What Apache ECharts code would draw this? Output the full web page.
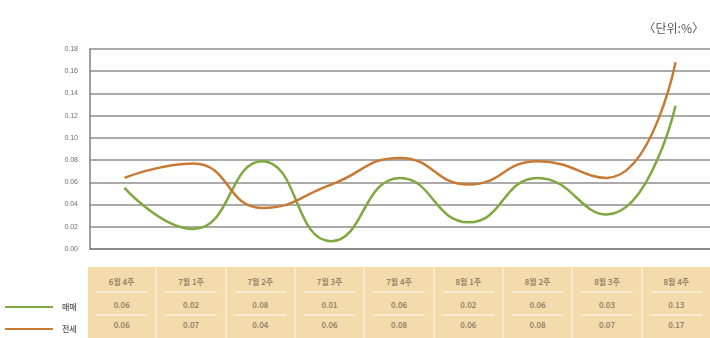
<!DOCTYPE html>
<html>
<head>
<meta charset="utf-8">
<script src="https://cdn.jsdelivr.net/npm/echarts@6/dist/echarts.min.js"></script>
<style>
  html, body { margin:0; padding:0; background:#fff; }
  #wrap { position:relative; width:710px; height:338px; overflow:hidden; font-family:"Noto Sans CJK KR","Noto Sans",sans-serif; }
  #chart { position:absolute; left:0; top:0; width:710px; height:338px; }
  #unit { position:absolute; right:6px; top:19px; font-size:12px; color:#555; }
  #table { position:absolute; left:88px; top:267px; width:622px; height:71px; background:#f3dbab; display:flex; }
  .col { flex:1; position:relative; border-left:2px solid #f8e9cc; }
  .col:first-child { border-left:none; }
  .cell { position:absolute; left:4px; right:4px; text-align:center; font-size:8px; color:#857660; font-weight:500; }
  .h { top:8px; height:14px; line-height:14px; }
  .r1 { top:31px; height:14px; line-height:14px; }
  .r2 { top:51px; height:14px; line-height:14px; }
  .sep { position:absolute; left:8px; right:8px; height:2px; background:#f9ecd2; }
  .leg { position:absolute; height:2px; left:5px; width:48px; }
  .legt { position:absolute; left:62px; font-size:8px; color:#555; font-weight:500; }
</style>
</head>
<body>
<div id="wrap">
  <div id="chart"></div>
  <div id="unit">〈단위:%〉</div>
  <div id="table"></div>
  <div class="leg" style="top:306px;background:#7fa83f"></div>
  <div class="legt" style="top:301px">매매</div>
  <div class="leg" style="top:328px;background:#c87a35"></div>
  <div class="legt" style="top:323px">전세</div>
</div>
<script>
var categories = ['6월 4주','7월 1주','7월 2주','7월 3주','7월 4주','8월 1주','8월 2주','8월 3주','8월 4주'];
var seriesNames = ['매매','전세'];
// plotted values
var maemaeValues = [0.055, 0.018, 0.079, 0.007, 0.064, 0.024, 0.064, 0.031, 0.129];
var jeonseValues = [0.064, 0.077, 0.037, 0.058, 0.082, 0.058, 0.079, 0.064, 0.168];
// values printed in the table
var maemaeTable = ['0.06','0.02','0.08','0.01','0.06','0.02','0.06','0.03','0.13'];
var jeonseTable = ['0.06','0.07','0.04','0.06','0.08','0.06','0.08','0.07','0.17'];
var yTicks = [0,0.02,0.04,0.06,0.08,0.10,0.12,0.14,0.16,0.18];

var tbl = document.getElementById('table');
for (var i = 0; i < categories.length; i++) {
  var c = document.createElement('div');
  c.className = 'col';
  c.innerHTML = '<div class="cell h">' + categories[i] + '</div>' +
    '<div class="sep" style="top:24px"></div>' +
    '<div class="cell r1">' + maemaeTable[i] + '</div>' +
    '<div class="sep" style="top:47px"></div>' +
    '<div class="cell r2">' + jeonseTable[i] + '</div>';
  tbl.appendChild(c);
}

var chart = echarts.init(document.getElementById('chart'), null, {renderer:'canvas'});
chart.setOption({
  animation:false,
  grid:{left:90, right:0, top:49, bottom:89},
  xAxis:{
    type:'category', data:categories, boundaryGap:true,
    axisLine:{show:true, lineStyle:{color:'#808080', width:1.5}},
    axisTick:{show:false}, axisLabel:{show:false}, splitLine:{show:false}
  },
  yAxis:{
    type:'value', min:yTicks[0], max:yTicks[yTicks.length-1], interval:0.02,
    axisLine:{show:true, lineStyle:{color:'#808080', width:1.5}},
    axisTick:{show:false},
    axisLabel:{fontSize:7, color:'#707070', margin:12, formatter:function(v){return v.toFixed(2);}},
    splitLine:{show:true, lineStyle:{color:'#8e8e8e', width:1.6}}
  },
  series:[
    {name:seriesNames[0], type:'line', data:maemaeValues, smooth:0.5, symbol:'none',
     lineStyle:{color:'#7fa83f', width:2.5}},
    {name:seriesNames[1], type:'line', data:jeonseValues, smooth:0.5, symbol:'none',
     lineStyle:{color:'#c87a35', width:2.5}}
  ]
});
</script>
</body>
</html>
